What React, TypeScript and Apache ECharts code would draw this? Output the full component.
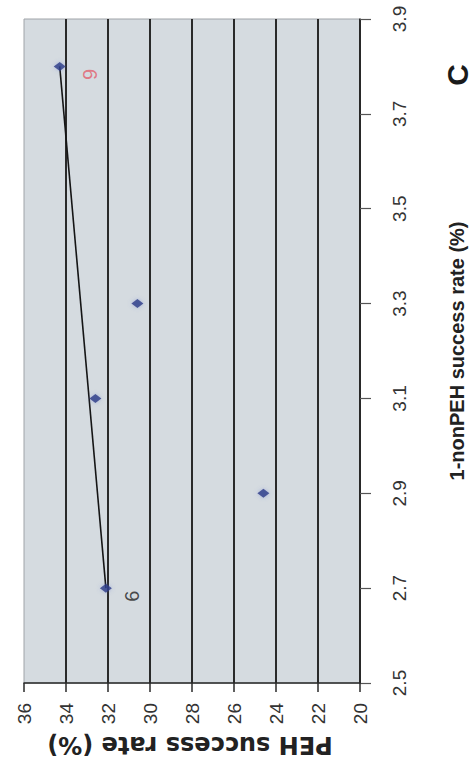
import React, { useEffect, useRef } from 'react';
import * as echarts from 'echarts';

// Data (x = 1-nonPEH success rate, y = PEH success rate)
const nonPEHRate = [3.8, 3.3, 3.1, 2.9, 2.7];
const pehRate = [34.3, 30.6, 32.6, 24.6, 32.1];
const pointNotes = ['9', '', '', '', '6'];
const noteColors = ['#e2606e', '#222222', '#222222', '#222222', '#222222'];
const trendNonPEH = [3.8, 2.7];
const trendPEH = [34.3, 32.1];
const nonPEHTicks = [2.5, 2.7, 2.9, 3.1, 3.3, 3.5, 3.7, 3.9];
const pehMin = 20;
const pehMax = 36;
const pehStep = 2;
const xTitle = '1-nonPEH success rate (%)';
const yTitle = 'PEH success rate (%)';
const panelLetter = 'C';

export default function App() {
  const ref = useRef<HTMLDivElement>(null);
  useEffect(() => {
    if (!ref.current) return;
    const chart = echarts.init(ref.current, undefined, { renderer: 'svg' });
    const noteOffsets: Record<number, number[]> = { 0: [-8, 30], 4: [-8, 26] };
    const scatterData = pehRate.map((p, i) => {
      const item: any = { value: [p, nonPEHRate[i]] };
      if (pointNotes[i]) {
        item.label = {
          show: true,
          formatter: pointNotes[i],
          color: noteColors[i],
          offset: noteOffsets[i],
        };
      }
      return item;
    });
    const trendData = trendPEH.map((p, i) => [p, trendNonPEH[i]]);
    const splitColors: string[] = [];
    for (let v = pehMin; v <= pehMax; v += pehStep) {
      splitColors.push(v === pehMax ? 'rgba(0,0,0,0)' : '#2a2a2a');
    }
    chart.setOption({
      animation: false,
      backgroundColor: '#ffffff',
      grid: {
        left: 24,
        right: 115,
        top: 19,
        bottom: 89,
        show: true,
        backgroundColor: '#d5dbe0',
        borderColor: '#a0a4a8',
        borderWidth: 1,
      },
      xAxis: {
        type: 'value',
        min: pehMin,
        max: pehMax,
        interval: pehStep,
        inverse: true,
        position: 'bottom',
        axisLine: { show: true, lineStyle: { color: '#2a2a2a', width: 1.5 } },
        axisTick: { show: true, length: 9, lineStyle: { color: '#2a2a2a', width: 1.5 } },
        axisLabel: {
          rotate: 90,
          margin: 20,
          fontSize: 19,
          fontFamily: 'Liberation Sans',
          color: '#333333',
        },
        splitLine: {
          show: true,
          lineStyle: { color: splitColors, width: 2 },
        },
      },
      yAxis: {
        type: 'value',
        min: nonPEHTicks[0],
        max: nonPEHTicks[nonPEHTicks.length - 1],
        position: 'right',
        axisLine: { show: true, lineStyle: { color: '#2a2a2a', width: 1.5 } },
        axisTick: {
          show: true,
          length: 11,
          customValues: nonPEHTicks,
          lineStyle: { color: '#555555', width: 1.2 },
        },
        axisLabel: {
          rotate: 90,
          margin: 30,
          fontSize: 19,
          fontFamily: 'Liberation Sans',
          color: '#333333',
          customValues: nonPEHTicks,
          formatter: (v: number) => v.toFixed(1),
        },
        splitLine: { show: false },
      },
      series: [
        {
          type: 'line',
          data: trendData,
          symbol: 'none',
          lineStyle: { color: '#151515', width: 1.6 },
          z: 2,
        },
        {
          type: 'scatter',
          data: scatterData,
          symbol: 'diamond',
          symbolSize: [12, 9],
          itemStyle: { color: '#2b3a86', shadowBlur: 4, shadowColor: 'rgba(90,110,200,0.5)' },
          label: {
            show: false,
            position: 'inside',
            rotate: 90,
            fontSize: 20,
            fontFamily: 'Liberation Sans',
          },
          z: 3,
        },
      ],
      graphic: [
        {
          type: 'text',
          x: 457,
          y: 351,
          rotation: Math.PI / 2,
          style: {
            text: xTitle,
            fontSize: 20,
            fontWeight: 'bold',
            fontFamily: 'Liberation Sans',
            fill: '#222222',
            textAlign: 'center',
            textVerticalAlign: 'middle',
            align: 'center',
            verticalAlign: 'middle',
          },
        },
        {
          type: 'text',
          x: 190,
          y: 745,
          rotation: Math.PI,
          style: {
            text: yTitle,
            fontSize: 24,
            fontWeight: 'bold',
            fontFamily: 'DejaVu Sans',
            fill: '#222222',
            textAlign: 'center',
            textVerticalAlign: 'middle',
            align: 'center',
            verticalAlign: 'middle',
          },
        },
        {
          type: 'text',
          x: 457,
          y: 75,
          rotation: Math.PI / 2,
          style: {
            text: panelLetter,
            fontSize: 30,
            fontWeight: 'bold',
            fontFamily: 'Liberation Sans',
            fill: '#1a1a1a',
            textAlign: 'center',
            textVerticalAlign: 'middle',
            align: 'center',
            verticalAlign: 'middle',
          },
        },
      ],
    });
    return () => chart.dispose();
  }, []);
  return (
    <div
      ref={ref}
      style={{ position: 'fixed', left: 0, top: 0, width: 475, height: 772, background: '#fff' }}
    />
  );
}
